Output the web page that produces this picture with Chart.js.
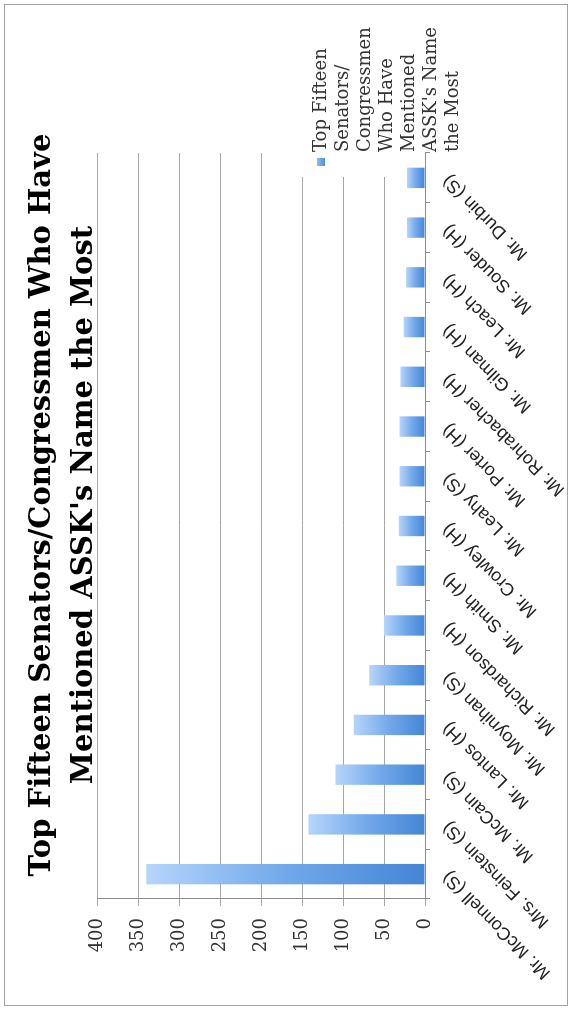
<!DOCTYPE html>
<html>
<head>
<meta charset="utf-8">
<script src="https://cdn.jsdelivr.net/npm/chart.js@4.4.1/dist/chart.umd.min.js"></script>
<style>
  html, body { margin: 0; padding: 0; background: #fff; }
  body { width: 572px; height: 1010px; position: relative; overflow: hidden; }
  /* chart is laid out landscape and turned a quarter turn */
  #turn {
    position: absolute; left: 0; top: 0;
    width: 1010px; height: 572px;
    transform-origin: 0 0;
    transform: translateY(1010px) rotate(-90deg);
  }
  #frame {
    position: absolute; left: 4px; top: 4px;
    width: 562px; height: 1000px;
    border: 1px solid #a3a3a3;
  }
</style>
</head>
<body>
<div id="turn"><canvas id="mentionsChart" width="1010" height="572"></canvas></div>
<div id="frame"></div>
<script>
const members = [
  'Mr. McConnell (S)', 'Mrs. Feinstein (S)', 'Mr. McCain (S)', 'Mr. Lantos (H)',
  'Mr. Moynihan (S)', 'Mr. Richardson (H)', 'Mr. Smith (H)', 'Mr. Crowley (H)',
  'Mr. Leahy (S)', 'Mr. Porter (H)', 'Mr. Rohrabacher (H)', 'Mr. Gilman (H)',
  'Mr. Leach (H)', 'Mr. Souder (H)', 'Mr. Durbin (S)'
];
const mentions = [340, 142, 109, 87, 68, 50, 35, 32, 31, 31, 30, 26, 23, 22, 22];
const valueTicks = [0, 50, 100, 150, 200, 250, 300, 350, 400];
const titleLines = ['Top Fifteen Senators/Congressmen Who Have', "Mentioned ASSK's Name the Most"];
const legendLines = ['Top Fifteen', 'Senators/', 'Congressmen', 'Who Have', 'Mentioned', "ASSK's Name", 'the Most'];

// each bar fades from a darker base to a light tip
function barGradient(context) {
  const chart = context.chart;
  if (!chart.chartArea) return '#5b9be0';
  const y = chart.scales.y;
  const base = y.getPixelForValue(0);
  const tip = y.getPixelForValue(context.raw);
  const g = chart.ctx.createLinearGradient(0, base, 0, tip);
  g.addColorStop(0, '#4485d5');
  g.addColorStop(0.5, '#72a8ea');
  g.addColorStop(1, '#b6d5fa');
  return g;
}

// legend sits over the top end of the plot on a white patch
const legendBox = {
  id: 'legendBox',
  beforeDatasetsDraw(chart) {
    const { ctx, chartArea } = chart;
    ctx.save();
    ctx.fillStyle = '#fff';
    ctx.fillRect(833, 282, chartArea.right - 833 + 2, 136);
    ctx.restore();
  },
  afterDraw(chart) {
    const ctx = chart.ctx;
    ctx.save();
    const g = ctx.createLinearGradient(0, 325, 0, 317);
    g.addColorStop(0, '#4f8fdc');
    g.addColorStop(1, '#8fbdf2');
    ctx.fillStyle = g;
    ctx.fillRect(844, 317, 8, 8);
    ctx.fillStyle = '#333';
    ctx.font = '18px "DejaVu Serif"';
    ctx.textBaseline = 'middle';
    ctx.textAlign = 'left';
    legendLines.forEach((line, i) => {
      ctx.fillText(line, 858, 321 + i * 22);
    });
    ctx.restore();
  }
};

const ctx = document.getElementById('mentionsChart').getContext('2d');
new Chart(ctx, {
  type: 'bar',
  data: {
    labels: members,
    datasets: [{
      label: legendLines.join(' '),
      data: mentions,
      backgroundColor: barGradient,
      borderWidth: 0,
      barPercentage: 0.41,
      categoryPercentage: 1
    }]
  },
  options: {
    responsive: false,
    devicePixelRatio: 1,
    animation: false,
    scales: {
      x: {
        afterFit: scale => { scale.height = 147; },
        grid: {
          drawOnChartArea: false,
          tickLength: 5,
          color: '#8c8c8c'
        },
        border: { color: '#8c8c8c' },
        ticks: {
          autoSkip: false,
          minRotation: 45,
          maxRotation: 45,
          padding: 8,
          color: '#222',
          font: { family: '"Liberation Sans"', size: 18 }
        }
      },
      y: {
        min: 0,
        max: 400,
        afterFit: scale => { scale.width = 111; },
        afterBuildTicks: scale => { scale.ticks = valueTicks.map(v => ({ value: v })); },
        grid: {
          color: '#a6a6a6',
          tickLength: 7
        },
        border: { color: '#8c8c8c' },
        ticks: {
          padding: 12,
          color: '#333',
          font: { family: '"DejaVu Serif"', size: 18 }
        }
      },
      // empty right-hand strip that leaves room for the legend
      legendSpace: {
        position: 'right',
        afterFit: scale => { scale.width = 153; },
        grid: { display: false },
        border: { display: false },
        ticks: { display: false }
      }
    },
    plugins: {
      legend: { display: false },
      tooltip: { enabled: false },
      title: {
        display: true,
        text: titleLines,
        color: '#000',
        padding: { top: 21, bottom: -8 },
        font: { family: '"DejaVu Serif"', size: 29, weight: 'bold', lineHeight: '42px' }
      }
    }
  },
  plugins: [legendBox]
});
</script>
</body>
</html>
